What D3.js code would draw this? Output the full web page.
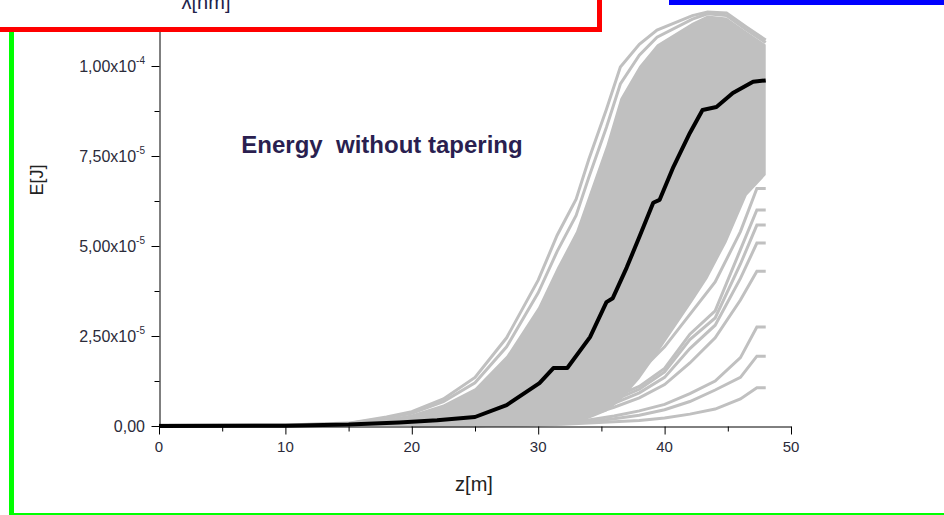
<!DOCTYPE html>
<html>
<head>
<meta charset="utf-8" />
<title>Energy without tapering</title>
<script src="https://cdn.jsdelivr.net/npm/d3@7"></script>
<style>
    body { margin: 0; background: #fff; }
    svg { display: block; font-family: "Liberation Sans", Arial, sans-serif; }
</style>
</head>
<body>
<div id="chart"></div>
<script>
    // values in units of 1e-5 J, z in m
    var bandZ = [0, 10, 15, 18, 20, 22.5, 25, 27.5, 30, 31.5, 33, 34, 35.4, 36.5, 38, 39.4, 42.2, 43.4, 44.9, 46.5, 48];
    var edge1 = [0.02, 0.03, 0.08, 0.25, 0.4, 0.75, 1.35, 2.45, 4.05, 5.3, 6.3, 7.4, 8.8, 9.97, 10.6, 11.0, 11.4, 11.5, 11.47, 11.08, 10.72];
    var edge2 = [0.02, 0.03, 0.07, 0.22, 0.35, 0.68, 1.2, 2.2, 3.7, 4.85, 5.85, 6.9, 8.3, 9.5, 10.3, 10.8, 11.3, 11.45, 11.4, 11.0, 10.65];
    var bandTop = [0.02, 0.03, 0.06, 0.2, 0.32, 0.6, 1.05, 1.95, 3.3, 4.4, 5.4, 6.4, 7.8, 9.1, 10.0, 10.6, 11.2, 11.4, 11.35, 10.95, 10.6];
    var bandBottom = [0, 0, 0, 0, 0, 0, 0, 0, 0, 0.02, 0.1, 0.2, 0.4, 0.7, 1.3, 2.0, 3.45, 4.1, 5.1, 6.4, 6.97];

    var outZ = [20, 25, 28, 30, 32, 34, 36, 38, 40, 42, 44, 46, 47.3, 48];
    var outH = [0.02, 0.05, 0.12, 0.2, 0.35, 0.6, 1.0, 1.5, 2.2, 3.1, 4.0, 5.4, 6.6, 6.6];
    var outA = [0.01, 0.04, 0.09, 0.15, 0.27, 0.45, 0.8, 1.1, 1.6, 2.55, 3.2, 4.9, 6.0, 6.0];
    var outB = [0.01, 0.04, 0.08, 0.14, 0.25, 0.42, 0.72, 1.02, 1.5, 2.4, 3.0, 4.5, 5.58, 5.58];
    var outC = [0.01, 0.03, 0.07, 0.12, 0.22, 0.37, 0.63, 0.92, 1.35, 2.15, 2.8, 4.1, 5.08, 5.08];
    var outD = [0.01, 0.03, 0.06, 0.1, 0.18, 0.3, 0.52, 0.78, 1.15, 1.75, 2.45, 3.5, 4.3, 4.3];
    var outE = [0, 0.02, 0.04, 0.06, 0.1, 0.17, 0.28, 0.42, 0.6, 0.9, 1.25, 1.9, 2.75, 2.75];
    var outF = [0, 0.01, 0.03, 0.04, 0.07, 0.12, 0.2, 0.3, 0.45, 0.68, 1.0, 1.35, 1.94, 1.94];
    var outG = [0, 0.01, 0.02, 0.03, 0.05, 0.08, 0.12, 0.15, 0.22, 0.33, 0.47, 0.75, 1.06, 1.06];

    var meanZ = [0, 10, 15, 19, 22, 25, 27.5, 30.1, 31.2, 32.3, 34.1, 35.4, 35.9, 37, 38, 39.1, 39.6, 40.7, 42, 43, 44.1, 45.4, 47, 48];
    var meanE = [0, 0.01, 0.04, 0.1, 0.16, 0.25, 0.58, 1.19, 1.61, 1.61, 2.47, 3.44, 3.55, 4.4, 5.25, 6.2, 6.28, 7.2, 8.14, 8.78, 8.86, 9.25, 9.56, 9.6];

    var yTicks = [0, 2.5, 5, 7.5, 10];
    var yMinor = [1.25, 3.75, 6.25, 8.75];
    var yMant = ["0,00", "2,50x10", "5,00x10", "7,50x10", "1,00x10"];
    var yExp = ["", "-5", "-5", "-5", "-4"];
    var xTicks = [0, 10, 20, 30, 40, 50];
    var xMinor = [5, 15, 25, 35, 45];

    var w = 944, h = 515;
    var svg = d3.select("#chart").append("svg")
        .attr("width", w)
        .attr("height", h);

    svg.append("rect").attr("width", w).attr("height", h).attr("fill", "#fff");

    var x = d3.scaleLinear().domain([0, 50]).range([159, 791]);
    var y = d3.scaleLinear().domain([0, 11]).range([426, 30]);

    // gray band of all runs
    var band = bandZ.map(function (z, i) { return { z: z, lo: bandBottom[i], hi: bandTop[i] }; });
    svg.append("path")
        .datum(band)
        .attr("fill", "#c0c0c0")
        .attr("d", d3.area()
            .x(function (d) { return x(d.z); })
            .y0(function (d) { return y(d.lo); })
            .y1(function (d) { return y(d.hi); }));

    var line = d3.line()
        .x(function (d) { return x(d[0]); })
        .y(function (d) { return y(d[1]); });

    var grayRuns = [
        bandZ.map(function (z, i) { return [z, edge1[i]]; }),
        bandZ.map(function (z, i) { return [z, edge2[i]]; })
    ];
    [outH, outA, outB, outC, outD, outE, outF, outG].forEach(function (s) {
        grayRuns.push(outZ.map(function (z, i) { return [z, s[i]]; }));
    });

    svg.selectAll("path.run")
        .data(grayRuns)
        .enter()
        .append("path")
        .attr("class", "run")
        .attr("fill", "none")
        .attr("stroke", "#c0c0c0")
        .attr("stroke-width", 3)
        .attr("d", line);

    // average
    svg.append("path")
        .datum(meanZ.map(function (z, i) { return [z, meanE[i]]; }))
        .attr("fill", "none")
        .attr("stroke", "#000")
        .attr("stroke-width", 4)
        .attr("stroke-linejoin", "round")
        .attr("d", line);

    // axes
    svg.append("g")
        .attr("transform", "translate(0,426.5)")
        .call(d3.axisBottom(x).tickValues(xTicks).tickSize(8).tickSizeOuter(0).tickFormat(""));
    svg.append("g")
        .attr("transform", "translate(0,426.5)")
        .call(d3.axisBottom(x).tickValues(xMinor).tickSize(5).tickFormat(""))
        .select(".domain").remove();

    svg.append("g")
        .attr("transform", "translate(159.5,0)")
        .call(d3.axisLeft(y).tickValues(yTicks).tickSize(8).tickSizeOuter(0).tickFormat(""));
    svg.append("g")
        .attr("transform", "translate(159.5,0)")
        .call(d3.axisLeft(y).tickValues(yMinor).tickSize(5).tickFormat(""))
        .select(".domain").remove();

    svg.selectAll(".domain, .tick line").attr("stroke", "#000");

    svg.selectAll("text.xlab")
        .data(xTicks)
        .enter()
        .append("text")
        .attr("x", function (d) { return x(d); })
        .attr("y", 452)
        .attr("text-anchor", "middle")
        .attr("font-size", "15px")
        .attr("fill", "#2b2b3a")
        .text(function (d) { return d; });

    var ylab = svg.selectAll("text.ylab")
        .data(yTicks)
        .enter()
        .append("text")
        .attr("x", 145)
        .attr("y", function (d) { return y(d) + 5.5; })
        .attr("text-anchor", "end")
        .attr("font-size", "16px")
        .attr("fill", "#2b2b3a");
    ylab.append("tspan").text(function (d, i) { return yMant[i]; });
    ylab.append("tspan")
        .attr("font-size", "10px")
        .attr("dy", -8)
        .text(function (d, i) { return yExp[i]; });

    svg.append("text")
        .attr("x", 474)
        .attr("y", 491)
        .attr("text-anchor", "middle")
        .attr("font-size", "20px")
        .attr("fill", "#222")
        .text("z[m]");

    svg.append("text")
        .attr("transform", "translate(43,180) rotate(-90)")
        .attr("text-anchor", "middle")
        .attr("font-size", "18px")
        .attr("fill", "#222")
        .text("E[J]");

    svg.append("text")
        .attr("x", 382)
        .attr("y", 153)
        .attr("text-anchor", "middle")
        .attr("font-size", "24px")
        .attr("font-weight", "bold")
        .attr("fill", "#2a1f50")
        .style("white-space", "pre")
        .text("Energy  without tapering");

    // slide frame pieces around the chart
    svg.append("rect")
        .attr("x", -10).attr("y", -10)
        .attr("width", 609.5).attr("height", 39.5)
        .attr("fill", "#fff")
        .attr("stroke", "#ff0000")
        .attr("stroke-width", 5);
    svg.append("text")
        .attr("x", 206)
        .attr("y", 9)
        .attr("text-anchor", "middle")
        .attr("font-size", "20px")
        .attr("fill", "#22224a")
        .text("λ[nm]");
    svg.append("rect")
        .attr("x", 669).attr("y", 0)
        .attr("width", 275).attr("height", 5)
        .attr("fill", "#0000ff");
    svg.append("rect")
        .attr("x", 9).attr("y", 32)
        .attr("width", 5).attr("height", 483)
        .attr("fill", "#00ff00");
    svg.append("rect")
        .attr("x", 9).attr("y", 513)
        .attr("width", 935).attr("height", 2)
        .attr("fill", "#00ff00");
</script>
</body>
</html>
